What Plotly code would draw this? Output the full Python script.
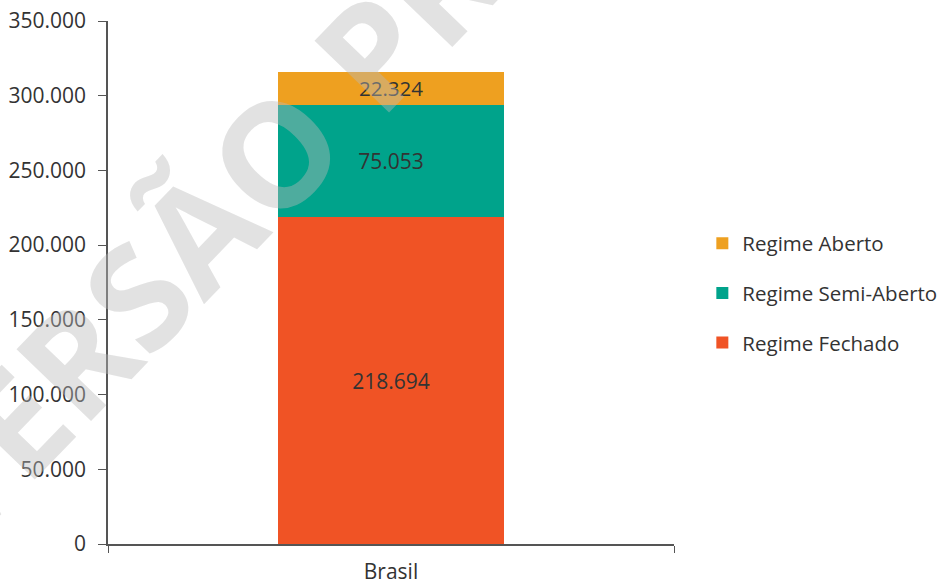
"""Stacked bar: população prisional por regime (Brasil)."""

import plotly.graph_objects as go

categories = ["Brasil"]
series_names = ["Regime Fechado", "Regime Semi-Aberto", "Regime Aberto"]
fechado = [218694]
semi_aberto = [75053]
aberto = [22324]
tick_vals = [0, 50000, 100000, 150000, 200000, 250000, 300000, 350000]

colors = ["#F05325", "#00A38B", "#EEA020"]
values = [fechado, semi_aberto, aberto]

fig = go.Figure()
for rank, (name, vals, color) in enumerate(zip(series_names, values, colors)):
    fig.add_trace(go.Bar(
        x=categories,
        y=vals,
        name=name,
        legendgroup=name,
        legendrank=3 - rank,
        marker=dict(color=color, line=dict(width=0)),
        width=0.4,
        texttemplate="%{y:,}",
        textposition="inside",
        insidetextanchor="middle",
        textfont=dict(color="#333333", size=21),
    ))

# marca d'água
fig.add_annotation(
    text="<b>VERSÃO PRELIMINAR</b>",
    xref="paper", yref="paper",
    x=0.588, y=1.084,
    xanchor="center", yanchor="middle",
    showarrow=False,
    textangle=-46,
    font=dict(size=145, color="rgba(185,185,185,0.42)", family="Open Sans"),
)

fig.update_layout(
    barmode="stack",
    separators=",.",
    width=944,
    height=579,
    margin=dict(l=108, r=270, t=21, b=35),
    plot_bgcolor="white",
    paper_bgcolor="white",
    font=dict(family="Open Sans", size=21, color="#333333"),
    showlegend=True,
    legend=dict(
        traceorder="grouped",
        xref="container", yref="container",
        x=0.744, xanchor="left",
        y=0.494, yanchor="middle",
        tracegroupgap=20,
        font=dict(size=20.5),
        itemwidth=30,
    ),
    xaxis=dict(
        showline=True, linecolor="#555555", linewidth=1.5,
        ticks="outside", tickson="boundaries", ticklen=7, tickcolor="#555555",
        showgrid=False, automargin=False, ticklabelstandoff=8,
    ),
    yaxis=dict(
        range=[0, 350000],
        tickvals=tick_vals,
        tickformat=",",
        showline=True, linecolor="#555555", linewidth=1.5,
        ticks="outside", ticklen=8, tickcolor="#555555",
        showgrid=False, zeroline=False, automargin=False,
        ticklabelstandoff=8,
    ),
)

# no page margin / scrollbars, so the figure fills the window exactly
post = (
    "document.body.style.margin='0';"
    "document.body.style.overflow='hidden';"
    "document.documentElement.style.overflow='hidden';"
    "var gd=document.getElementById('{plot_id}');"
    "Plotly.relayout(gd,{width:944,height:579});"
)
fig.write_html(
    "out.html",
    config={"responsive": False, "displayModeBar": False},
    post_script=post,
)
